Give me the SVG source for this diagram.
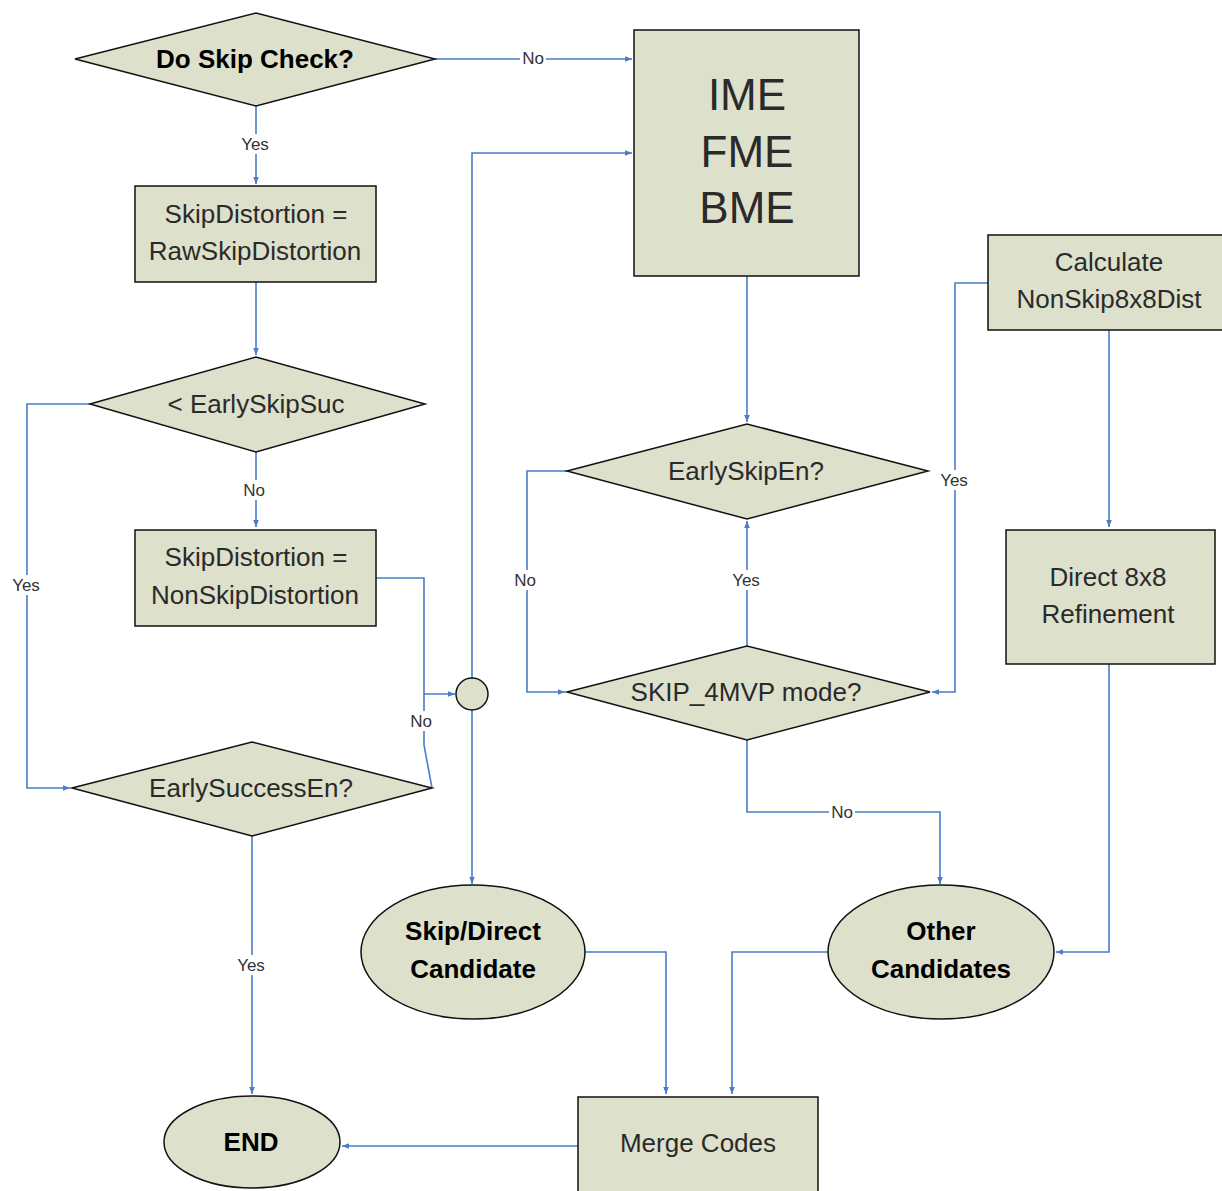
<svg xmlns="http://www.w3.org/2000/svg" width="1222" height="1191" viewBox="0 0 1222 1191">
<style>
.n{fill:#dde0cb;stroke:#111;stroke-width:1.5}
.c{fill:none;stroke:#4a7cc9;stroke-width:1.6}
.t{font-family:"Liberation Sans",Arial,sans-serif;fill:#2a2a2a;text-anchor:middle}
.b{font-weight:bold;fill:#000}
.l{font-family:"Liberation Sans",Arial,sans-serif;font-size:17px;fill:#333;text-anchor:middle}
.lb{fill:#fff}
</style>
<defs>
<marker id="a" viewBox="0 0 10 10" refX="10" refY="5" markerWidth="7" markerHeight="7" orient="auto" markerUnits="userSpaceOnUse">
<path d="M0,1 L10,5 L0,9 z" fill="#4a7cc9"/>
</marker>
</defs>
<rect width="1222" height="1191" fill="#fff"/>
<g id="connectors">
<path class="c" d="M435,59 H632" marker-end="url(#a)"/>
<path class="c" d="M256,106 V184" marker-end="url(#a)"/>
<path class="c" d="M256,282 V355" marker-end="url(#a)"/>
<path class="c" d="M256,452 V527" marker-end="url(#a)"/>
<path class="c" d="M90,404 H27 V788 H70" marker-end="url(#a)"/>
<path class="c" d="M376,578 H424 V694 H455" marker-end="url(#a)"/>
<path class="c" d="M432,788 L424,745 V694"/>
<path class="c" d="M472,678 V153 H632" marker-end="url(#a)"/>
<path class="c" d="M472,710 V884" marker-end="url(#a)"/>
<path class="c" d="M585,952 H666 V1094" marker-end="url(#a)"/>
<path class="c" d="M578,1146 H342" marker-end="url(#a)"/>
<path class="c" d="M252,836 V1094" marker-end="url(#a)"/>
<path class="c" d="M747,276 V422" marker-end="url(#a)"/>
<path class="c" d="M567,471 H527 V692 H565" marker-end="url(#a)"/>
<path class="c" d="M747,646 V521" marker-end="url(#a)"/>
<path class="c" d="M988,283 H955 V692 H932" marker-end="url(#a)"/>
<path class="c" d="M1109,330 V527" marker-end="url(#a)"/>
<path class="c" d="M1109,664 V952 H1056" marker-end="url(#a)"/>
<path class="c" d="M747,740 V812 H940 V884" marker-end="url(#a)"/>
<path class="c" d="M828,952 H732 V1094" marker-end="url(#a)"/>
<rect class="lb" x="520" y="48" width="26" height="20"/><text class="l" x="533" y="64">No</text>
<rect class="lb" x="238" y="134" width="34" height="20"/><text class="l" x="255" y="150">Yes</text>
<rect class="lb" x="241" y="480" width="26" height="20"/><text class="l" x="254" y="496">No</text>
<rect class="lb" x="9" y="575" width="34" height="20"/><text class="l" x="26" y="591">Yes</text>
<rect class="lb" x="408" y="711" width="26" height="20"/><text class="l" x="421" y="727">No</text>
<rect class="lb" x="234" y="955" width="34" height="20"/><text class="l" x="251" y="971">Yes</text>
<rect class="lb" x="512" y="570" width="26" height="20"/><text class="l" x="525" y="586">No</text>
<rect class="lb" x="729" y="570" width="34" height="20"/><text class="l" x="746" y="586">Yes</text>
<rect class="lb" x="937" y="470" width="34" height="20"/><text class="l" x="954" y="486">Yes</text>
<rect class="lb" x="829" y="802" width="26" height="20"/><text class="l" x="842" y="818">No</text>
</g>
<g id="doSkip">
<polygon class="n" points="75,59 256,13 435,59 256,106"/>
<text class="t b" x="255" y="68" font-size="26">Do Skip Check?</text>
</g>
<g id="ime">
<rect class="n" x="634" y="30" width="225" height="246"/>
<text class="t" x="747" y="110" font-size="44">IME</text>
<text class="t" x="747" y="167" font-size="44">FME</text>
<text class="t" x="747" y="223" font-size="44">BME</text>
</g>
<g id="rawSkip">
<rect class="n" x="135" y="186" width="241" height="96"/>
<text class="t" x="256" y="223" font-size="26">SkipDistortion =</text>
<text class="t" x="255" y="260" font-size="26">RawSkipDistortion</text>
</g>
<g id="earlySkipSuc">
<polygon class="n" points="90,404 256,357 425,404 256,452"/>
<text class="t" x="256" y="413" font-size="26">&lt; EarlySkipSuc</text>
</g>
<g id="nonSkip">
<rect class="n" x="135" y="530" width="241" height="96"/>
<text class="t" x="256" y="566" font-size="26">SkipDistortion =</text>
<text class="t" x="255" y="604" font-size="26">NonSkipDistortion</text>
</g>
<g id="earlySuccessEn">
<polygon class="n" points="72,788 252,742 432,788 252,836"/>
<text class="t" x="251" y="797" font-size="26">EarlySuccessEn?</text>
</g>
<g id="junction">
<circle class="n" cx="472" cy="694" r="16"/>
</g>
<g id="skipDirect">
<ellipse class="n" cx="473" cy="952" rx="112" ry="67"/>
<text class="t b" x="473" y="940" font-size="26">Skip/Direct</text>
<text class="t b" x="473" y="978" font-size="26">Candidate</text>
</g>
<g id="merge">
<rect class="n" x="578" y="1097" width="240" height="100"/>
<text class="t" x="698" y="1152" font-size="26">Merge Codes</text>
</g>
<g id="end">
<ellipse class="n" cx="252" cy="1142" rx="88" ry="46"/>
<text class="t b" x="251" y="1151" font-size="26">END</text>
</g>
<g id="earlySkipEn">
<polygon class="n" points="567,471 747,424 928,471 747,519"/>
<text class="t" x="746" y="480" font-size="26">EarlySkipEn?</text>
</g>
<g id="skip4mvp">
<polygon class="n" points="567,692 747,646 930,692 747,740"/>
<text class="t" x="746" y="701" font-size="26">SKIP_4MVP mode?</text>
</g>
<g id="calc">
<rect class="n" x="988" y="235" width="240" height="95"/>
<text class="t" x="1109" y="271" font-size="26">Calculate</text>
<text class="t" x="1109" y="308" font-size="26">NonSkip8x8Dist</text>
</g>
<g id="direct8x8">
<rect class="n" x="1006" y="530" width="209" height="134"/>
<text class="t" x="1108" y="586" font-size="26">Direct 8x8</text>
<text class="t" x="1108" y="623" font-size="26">Refinement</text>
</g>
<g id="other">
<ellipse class="n" cx="941" cy="952" rx="113" ry="67"/>
<text class="t b" x="941" y="940" font-size="26">Other</text>
<text class="t b" x="941" y="978" font-size="26">Candidates</text>
</g>
</svg>
